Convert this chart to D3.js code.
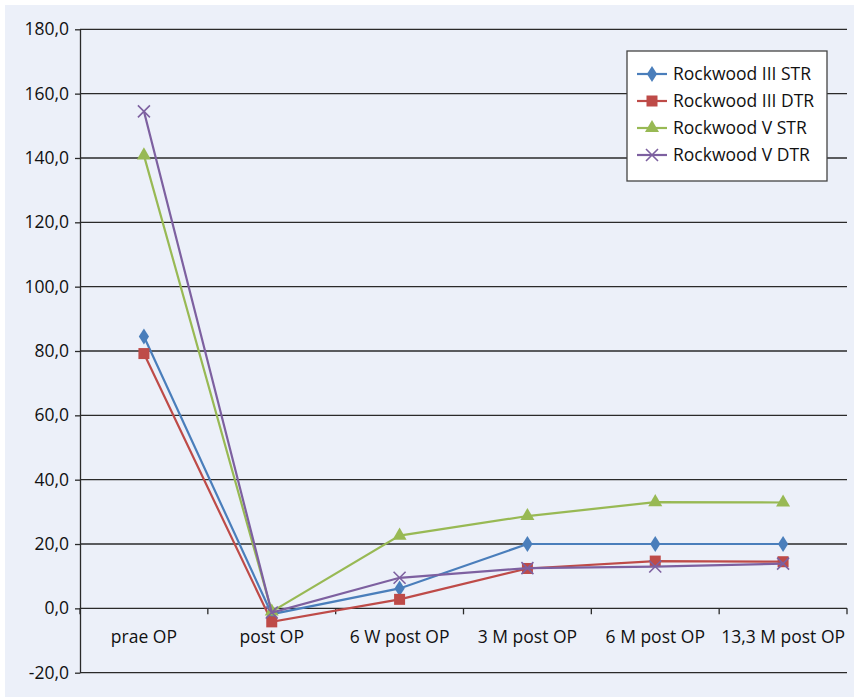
<!DOCTYPE html>
<html>
<head>
<meta charset="utf-8">
<script src="https://cdn.jsdelivr.net/npm/d3@7"></script>
<style>
  html, body { margin: 0; padding: 0; background: #ffffff; }
  svg { display: block; }
  text { font-family: "Open Sans", "Noto Sans", sans-serif; fill: #111; }
</style>
</head>
<body>
<svg id="chart" width="854" height="697"></svg>
<script>
// Follow-up time points
const categories = ["prae OP", "post OP", "6 W post OP", "3 M post OP", "6 M post OP", "13,3 M post OP"];

// Series values per time point
const rw3Str = [84.5, -1.8, 6.2, 20.0, 20.0, 20.0];
const rw3Dtr = [79.2, -4.2, 2.8, 12.4, 14.7, 14.5];
const rw5Str = [140.8, -1.0, 22.6, 28.7, 33.0, 32.9];
const rw5Dtr = [154.5, -1.3, 9.5, 12.5, 13.0, 13.9];

const seriesNames = ["Rockwood III STR", "Rockwood III DTR", "Rockwood V STR", "Rockwood V DTR"];
const yTicks = [-20, 0, 20, 40, 60, 80, 100, 120, 140, 160, 180];

const series = [
  { name: seriesNames[0], values: rw3Str, color: "#4a7ebb", marker: "diamond" },
  { name: seriesNames[1], values: rw3Dtr, color: "#be4b48", marker: "square" },
  { name: seriesNames[2], values: rw5Str, color: "#98b954", marker: "triangle" },
  { name: seriesNames[3], values: rw5Dtr, color: "#7d60a0", marker: "cross" }
];

const svg = d3.select("#chart");
const W = 854, H = 697;

// panel background
svg.append("rect").attr("x", 5).attr("y", 5).attr("width", W - 5).attr("height", H - 5)
  .attr("fill", "#ecf0f9");

const plotLeft = 80, plotRight = 847, plotTop = 29.3, plotBottom = 672.7;

const x = d3.scaleBand().domain(categories).range([plotLeft, plotRight]).paddingInner(0).paddingOuter(0);
const y = d3.scaleLinear().domain([-20, 180]).range([plotBottom, plotTop]);

// horizontal gridlines
svg.append("g").selectAll("line").data(yTicks).join("line")
  .attr("x1", plotLeft).attr("x2", plotRight)
  .attr("y1", d => y(d)).attr("y2", d => y(d))
  .attr("stroke", "#2a2a2a").attr("stroke-width", 1.3);

// y axis, German decimal comma and plain hyphen for negatives
const yAxis = d3.axisLeft(y).tickValues(yTicks).tickSize(5).tickSizeOuter(0)
  .tickFormat(d => d.toFixed(1).replace(".", ","));
const gy = svg.append("g").attr("transform", `translate(${plotLeft},0)`).call(yAxis);
gy.select(".domain").attr("stroke", "#2a2a2a").attr("stroke-width", 1.3);
gy.selectAll(".tick line").attr("stroke", "#2a2a2a").attr("stroke-width", 1.3);
gy.selectAll(".tick text").attr("x", -11).attr("font-size", 17.5)
  .style("font-family", "'Open Sans', sans-serif").attr("fill", "#111");

// category axis at zero
const xAxis = d3.axisBottom(x).tickSize(0).tickSizeOuter(0);
const gx = svg.append("g").attr("transform", `translate(0,${y(0)})`).call(xAxis);
gx.select(".domain").remove();
gx.selectAll(".tick text").attr("dy", 0).attr("y", 35).attr("font-size", 17.5)
  .style("font-family", "'Open Sans', sans-serif").attr("fill", "#111");
// tick marks at category boundaries
const bounds = categories.map(c => x(c)).concat([x(categories[categories.length - 1]) + x.bandwidth()]);
svg.append("g").selectAll("line").data(bounds).join("line")
  .attr("x1", d => d).attr("x2", d => d)
  .attr("y1", y(0)).attr("y2", y(0) + 6)
  .attr("stroke", "#2a2a2a").attr("stroke-width", 1.3);

const cx = c => x(c) + x.bandwidth() / 2;

function drawMarker(g, type, color, px, py) {
  if (type === "diamond") {
    g.append("path").attr("d", d3.symbol(d3.symbolDiamond, 90)()).attr("transform", `translate(${px},${py}) scale(1.0,0.9)`)
      .attr("fill", color);
  } else if (type === "square") {
    g.append("rect").attr("x", px - 5.5).attr("y", py - 5.5).attr("width", 11).attr("height", 11).attr("fill", color);
  } else if (type === "triangle") {
    g.append("path").attr("d", d3.symbol(d3.symbolTriangle, 85)()).attr("transform", `translate(${px},${py})`)
      .attr("fill", color);
  } else {
    g.append("path").attr("d", `M${px-6},${py-6}L${px+6},${py+6}M${px-6},${py+6}L${px+6},${py-6}`)
      .attr("stroke", color).attr("stroke-width", 1.6).attr("fill", "none");
  }
}

const line = d3.line().x((d, i) => cx(categories[i])).y(d => y(d));

series.forEach(s => {
  const g = svg.append("g");
  g.append("path").datum(s.values).attr("d", line)
    .attr("fill", "none").attr("stroke", s.color).attr("stroke-width", 2.2);
  s.values.forEach((v, i) => drawMarker(g, s.marker, s.color, cx(categories[i]), y(v)));
});

// legend
const lg = svg.append("g");
lg.append("rect").attr("x", 627).attr("y", 51).attr("width", 200).attr("height", 130)
  .attr("fill", "#ffffff").attr("stroke", "#444").attr("stroke-width", 1.3);
series.forEach((s, i) => {
  const ly = 74 + i * 27;
  lg.append("line").attr("x1", 637).attr("x2", 667).attr("y1", ly).attr("y2", ly)
    .attr("stroke", s.color).attr("stroke-width", 2.2);
  drawMarker(lg, s.marker, s.color, 652, ly);
  lg.append("text").attr("x", 673).attr("y", ly).attr("dy", "0.35em")
    .attr("font-size", 17.5).text(s.name);
});
</script>
</body>
</html>
